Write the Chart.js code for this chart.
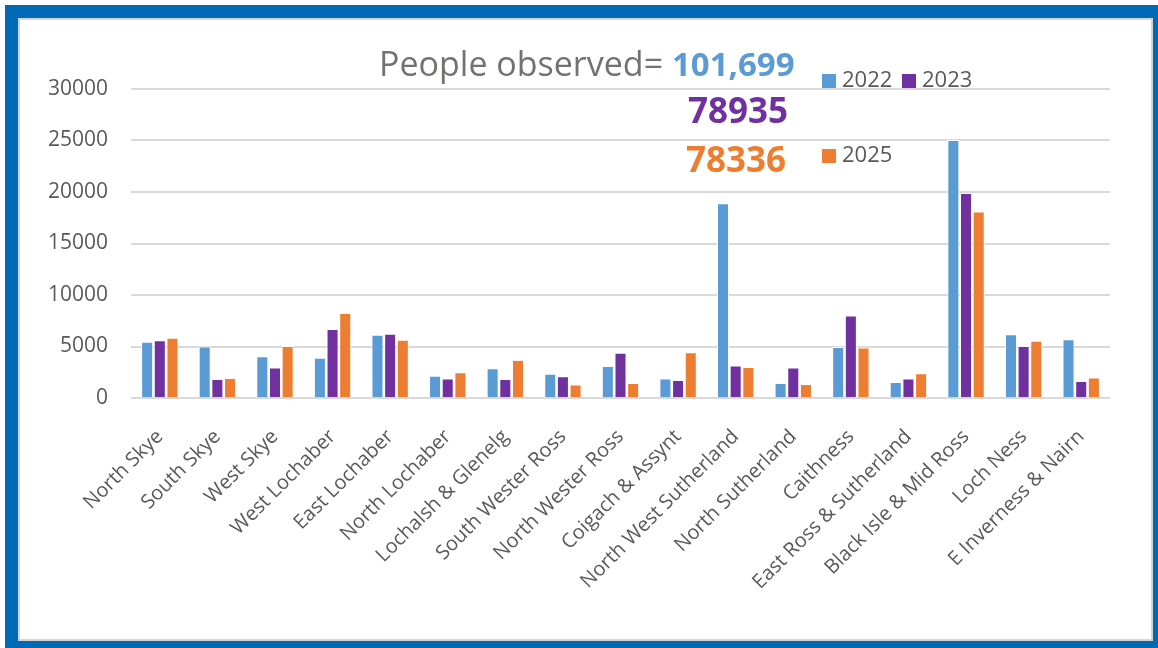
<!DOCTYPE html>
<html>
<head>
<meta charset="utf-8">
<script src="https://cdn.jsdelivr.net/npm/chart.js@4.4.1/dist/chart.umd.min.js"></script>
<style>
  body { margin: 0; background: #fff; width: 1158px; height: 648px; overflow: hidden; position: relative; font-family: "Open Sans", sans-serif; }
  .frame { position: absolute; left: 5px; top: 5px; width: 1161px; height: 649px; box-sizing: border-box; border: 13px solid #006ab6; }
  .inner { position: absolute; left: 18px; top: 18px; width: 1135px; height: 623px; box-sizing: border-box; border: 2px solid #d4d4d4; background: #fff; }
  .plot { position: absolute; left: 20px; top: 20px; width: 1131px; height: 619px; }
  .txt { position: absolute; white-space: nowrap; line-height: 1; }
  .leg { position: absolute; font-size: 22px; color: #595959; line-height: 1; white-space: nowrap; }
  .leg i { display: inline-block; width: 14px; height: 14px; margin-right: 6px; vertical-align: -1px; }
</style>
</head>
<body>
<div class="frame"></div>
<div class="inner"></div>
<div class="plot"><canvas id="grafico"></canvas></div>

<div class="txt" style="left:379px; top:46px; font-size:34px; color:#767171;">People observed= <b style="color:#5b9bd5; font-size:33px;">101,699</b></div>
<div class="txt" style="left:688px; top:92px; font-size:35px; font-weight:bold; color:#7030a0;">78935</div>
<div class="txt" style="left:686px; top:141px; font-size:35px; font-weight:bold; color:#ed7d31;">78336</div>

<div class="leg" style="left:822px; top:67px;"><i style="background:#5b9bd5"></i>2022</div>
<div class="leg" style="left:902px; top:67px;"><i style="background:#7030a0"></i>2023</div>
<div class="leg" style="left:822px; top:142px;"><i style="background:#ed7d31"></i>2025</div>

<script>
// Dados
const categorias = [
  "North Skye", "South Skye", "West Skye", "West Lochaber", "East Lochaber",
  "North Lochaber", "Lochalsh & Glenelg", "South Wester Ross", "North Wester Ross",
  "Coigach & Assynt", "North West Sutherland", "North Sutherland", "Caithness",
  "East Ross & Sutherland", "Black Isle & Mid Ross", "Loch Ness", "E Inverness & Nairn"
];
const anos = ["2022", "2023", "2025"];
const valores2022 = [5450, 5000, 4050, 3900, 6150, 2150, 2900, 2350, 3100, 1900, 18900, 1450, 4950, 1550, 25050, 6200, 5700];
const valores2023 = [5600, 1850, 2950, 6700, 6250, 1900, 1850, 2100, 4400, 1750, 3150, 2950, 8000, 1900, 19900, 5050, 1650];
const valores2025 = [5850, 1950, 5050, 8250, 5650, 2500, 3700, 1300, 1450, 4450, 3000, 1350, 4900, 2400, 18100, 5550, 2000];
const ticksY = [0, 5000, 10000, 15000, 20000, 25000, 30000];
const cores = ["#5b9bd5", "#7030a0", "#ed7d31"];

document.addEventListener("DOMContentLoaded", function () {
  const ctx = document.getElementById("grafico");
  const series = [valores2022, valores2023, valores2025];

  new Chart(ctx, {
    type: "bar",
    data: {
      labels: categorias,
      datasets: series.map((dados, i) => ({
        label: anos[i],
        data: dados,
        backgroundColor: cores[i],
        borderColor: "#ffffff",
        borderWidth: 1,
        categoryPercentage: 0.66,
        barPercentage: 0.95,
      })),
    },
    options: {
      responsive: true,
      maintainAspectRatio: false,
      animation: false,
      layout: { padding: { top: 69, right: 41, left: 0, bottom: 0 } },
      plugins: { legend: { display: false }, tooltip: { enabled: false } },
      scales: {
        x: {
          grid: { display: false },
          border: { display: false },
          ticks: {
            autoSkip: false,
            maxRotation: 45,
            minRotation: 45,
            padding: 19,
            color: "#595959",
            font: { family: "Open Sans", size: 20 },
          },
          afterFit: (scale) => { scale.height = 241; },
        },
        y: {
          min: 0,
          max: 30000,
          afterBuildTicks: (scale) => { scale.ticks = ticksY.map((v) => ({ value: v })); },
          grid: { color: "#d9d9d9", lineWidth: 2, drawTicks: false },
          border: { display: false },
          ticks: {
            padding: 23,
            color: "#595959",
            font: { family: "Open Sans", size: 21 },
            callback: (v) => String(v),
          },
          afterFit: (scale) => { scale.width = 111; },
        },
      },
    },
  });
});
</script>
</body>
</html>
